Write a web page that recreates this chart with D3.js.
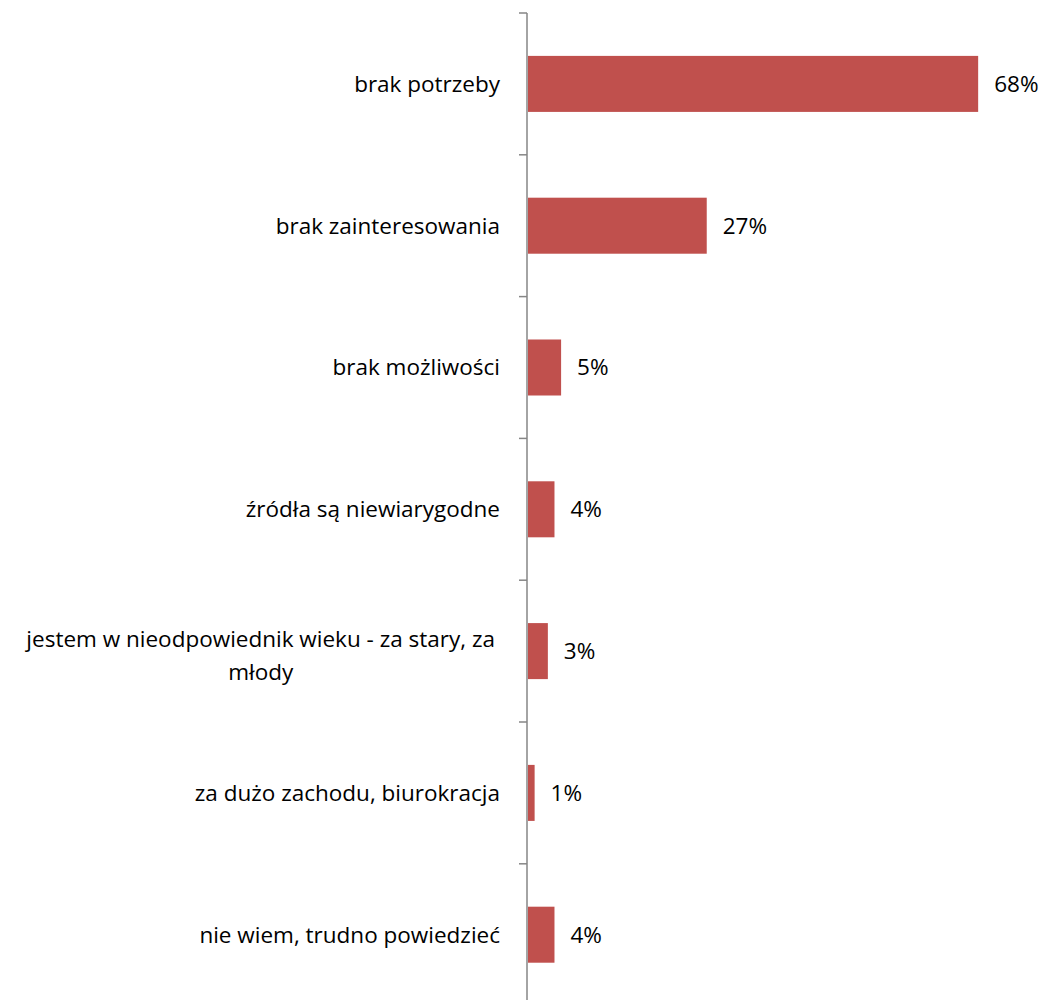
<!DOCTYPE html>
<html><head><meta charset="utf-8">
<script src="https://cdn.jsdelivr.net/npm/d3@7"></script>
<style>body{margin:0;background:#fff;} text{font-family:"Open Sans", Lato, sans-serif;}</style>
</head><body>
<svg id="c" width="1043" height="1000"></svg>
<script>
const categories = ["brak potrzeby","brak zainteresowania","brak możliwości","źródła są niewiarygodne","jestem w nieodpowiednik wieku - za stary, za młody","za dużo zachodu, biurokracja","nie wiem, trudno powiedzieć"];
const values = [68,27,5,4,3,1,4];
const valueLabels = ["68%","27%","5%","4%","3%","1%","4%"];

const svg = d3.select("#c");
const x0 = 527, yTop = 13, step = 141.8;
const y = d3.scaleBand().domain(categories).range([yTop, yTop + step*categories.length]).paddingInner(0.605).paddingOuter(0.3025);
const x = d3.scaleLinear().domain([0,100]).range([x0, x0 + 662]);

svg.selectAll("rect.bar").data(categories).enter().append("rect")
  .attr("x", x(0)+1).attr("y", d=>y(d)).attr("height", y.bandwidth())
  .attr("width", (d,i)=>x(values[i])-x(0)).attr("fill","#C0504D");

const ax = svg.append("g");
ax.append("line").attr("x1",x0).attr("x2",x0).attr("y1",yTop).attr("y2",1000).attr("stroke","#868686").attr("stroke-width",1.5);
const tickYs = d3.range(categories.length+1).map(i=>yTop+i*step);
ax.selectAll("line.t").data(tickYs).enter().append("line")
  .attr("x1",x0-8).attr("x2",x0).attr("y1",d=>d).attr("y2",d=>d).attr("stroke","#868686").attr("stroke-width",1.5);

const fs = 22.5, lh = 33, labelRight = 500;
categories.forEach((c,i)=>{
  const cy = y(c) + y.bandwidth()/2;
  const words = c.split(" ");
  let lines;
  const test = svg.append("text").attr("font-size",fs).text(c);
  const fullW = test.node().getComputedTextLength(); test.remove();
  if (fullW > 495) {
    lines = [words.slice(0,-1).join(" "), words[words.length-1]];
  } else lines = [c];
  if (lines.length === 1) {
    svg.append("text").attr("x",labelRight).attr("y",cy).attr("dy","0.35em").attr("text-anchor","end").attr("font-size",fs).attr("fill","#000").text(lines[0]);
  } else {
    const tm = svg.append("text").attr("font-size",fs);
    let w = 0; lines.forEach(l=>{tm.text(l); w=Math.max(w,tm.node().getComputedTextLength());}); tm.remove();
    const cx = labelRight - 5 - w/2;
    lines.forEach((l,j)=>{
      svg.append("text").attr("x",cx).attr("y",cy + (j-(lines.length-1)/2)*lh + 5).attr("dy","0.35em").attr("text-anchor","middle").attr("font-size",fs).attr("fill","#000").text(l);
    });
  }
});

svg.selectAll("text.v").data(categories).enter().append("text")
  .attr("x",(d,i)=>x(values[i])+17).attr("y",d=>y(d)+y.bandwidth()/2).attr("dy","0.35em")
  .attr("font-size",fs).attr("fill","#000").text((d,i)=>valueLabels[i]);
</script>
</body></html>
